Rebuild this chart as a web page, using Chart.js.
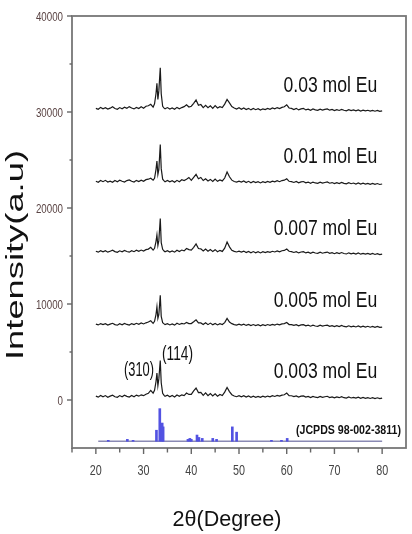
<!DOCTYPE html>
<html>
<head>
<meta charset="utf-8">
<script src="https://cdn.jsdelivr.net/npm/chart.js@4"></script>
<style>
html,body{margin:0;padding:0;background:#fff;}
#wrap{width:412px;height:534px;position:relative;}
</style>
</head>
<body>
<div id="wrap"><canvas id="c" width="412" height="534"></canvas></div>
<script>
// ---------- DATA ----------
const theta = [20,20.5,21,21.5,22,22.5,23,23.5,24,24.5,25,25.5,26,26.5,27,27.5,28,28.5,29,29.5,30,30.5,31,31.5,32,
  32.3,32.6,32.8,33.0,33.2,33.5,33.7,34.0,34.3,
  34.5,35,35.5,36,36.5,37,37.5,38,38.5,39,39.5,40,40.5,41,41.5,42,42.5,43,43.5,44,44.5,45,45.5,46,46.5,47,47.5,48,48.5,49,49.5,50,
  50.5,51,51.5,52,52.5,53,53.5,54,54.5,55,55.5,56,56.5,57,57.5,58,58.5,59,59.5,60,60.5,61,61.5,62,62.5,63,63.5,64,64.5,65,
  65.5,66,66.5,67,67.5,68,68.5,69,69.5,70,70.5,71,71.5,72,72.5,73,73.5,74,74.5,75,75.5,76,76.5,77,77.5,78,78.5,79,79.5,80];

const eu003 = [400,300,480,340,460,290,400,500,340,280,460,330,490,380,300,470,340,510,400,540,450,600,700,1000,720,
  1000,1900,2800,1500,2200,4100,1800,700,480,
  380,500,340,470,320,520,390,540,460,720,580,580,950,1250,780,800,480,740,450,680,420,640,400,570,460,820,1300,880,550,420,340,440,
  330,450,300,420,290,400,280,380,270,390,300,410,330,450,370,480,400,510,550,720,460,440,350,430,300,400,430,300,380,260,
  380,290,250,370,270,340,390,260,330,220,320,240,340,240,200,310,210,280,190,290,170,260,180,250,160,240,150,230,140,200];

const eu005 = [7900,7820,7960,7850,7950,7810,7900,7990,7850,7790,7950,7840,7980,7870,7810,7960,7850,7990,7880,8020,7920,8040,8120,8250,7990,
  8200,8900,9700,8500,8900,10900,8700,8050,7930,
  7850,7950,7820,7930,7800,7990,7870,7980,7920,8080,7960,7960,8150,8350,8030,8030,7870,8040,7850,8010,7830,7980,7820,7950,7860,8060,8500,8120,7950,7850,7810,7900,
  7800,7900,7770,7880,7750,7860,7750,7840,7720,7850,7760,7860,7780,7880,7810,7910,7830,7930,7960,8080,7860,7850,7770,7850,7720,7820,7850,7720,7800,7690,
  7800,7710,7670,7790,7690,7760,7800,7680,7750,7650,7750,7650,7760,7660,7620,7730,7630,7700,7610,7710,7590,7690,7600,7680,7580,7670,7570,7660,7560,7600];

const eu007 = [15500,15400,15560,15440,15560,15400,15500,15600,15460,15380,15540,15440,15580,15470,15400,15560,15450,15600,15480,15620,15520,15660,15720,15900,15620,
  15800,16500,17200,16100,16600,18900,16400,15700,15520,
  15440,15560,15410,15530,15400,15600,15470,15620,15540,15780,15660,15620,15900,16250,15780,15740,15520,15720,15500,15680,15460,15660,15450,15590,15480,15820,16450,15950,15600,15480,15420,15500,
  15400,15510,15360,15480,15340,15460,15340,15440,15320,15450,15350,15460,15380,15490,15420,15530,15440,15550,15580,15720,15490,15460,15370,15450,15320,15420,15450,15320,15400,15280,
  15400,15310,15270,15390,15290,15360,15410,15280,15350,15240,15340,15250,15360,15260,15210,15330,15230,15300,15200,15310,15190,15280,15200,15270,15170,15260,15160,15250,15150,15200];

const eu01 = [22780,22680,22860,22740,22880,22700,22800,22680,22860,22740,22900,22780,22700,22860,22920,22780,22700,22880,22760,22900,22780,22950,23000,23100,22900,
  23100,24000,24900,23500,24000,26600,24100,23000,22820,
  22740,22860,22720,22840,22690,22880,22740,22940,22860,23000,23180,22880,23200,23500,23050,23180,22860,23040,22820,22980,22760,23020,22780,22920,22820,23120,23750,23250,22900,22760,22700,22800,
  22700,22820,22660,22780,22630,22760,22640,22740,22610,22740,22650,22760,22680,22800,22720,22840,22740,22860,22900,23050,22780,22740,22660,22760,22620,22720,22760,22620,22700,22580,
  22700,22610,22570,22690,22590,22660,22710,22580,22650,22540,22640,22550,22660,22560,22510,22630,22530,22600,22500,22610,22490,22580,22500,22570,22470,22560,22460,22550,22450,22500];

const eu03 = [30380,30280,30480,30340,30440,30300,30400,30540,30360,30280,30460,30340,30500,30380,30560,30420,30320,30480,30360,30540,30400,30600,30650,30800,30500,
  30850,31900,33000,31300,32200,34600,31900,30600,30400,
  30340,30460,30300,30420,30280,30480,30340,30460,30560,30750,30520,30600,30900,31250,30700,30780,30460,30700,30440,30640,30380,30660,30420,30560,30460,30820,31300,30950,30560,30420,30300,30440,
  30280,30420,30260,30380,30220,30360,30240,30340,30200,30330,30250,30370,30280,30420,30330,30460,30360,30480,30540,30750,30420,30380,30260,30380,30220,30330,30380,30220,30300,30180,
  30320,30220,30170,30300,30200,30270,30320,30190,30260,30150,30250,30160,30270,30180,30120,30240,30150,30210,30120,30220,30100,30190,30110,30180,30090,30170,30080,30160,30070,30120];

const seriesNames = ["0.003 mol Eu","0.005 mol Eu","0.007 mol Eu","0.01 mol Eu","0.03 mol Eu"];

// JCPDS reference sticks (2θ and top intensity, drawn from base level refBase)
const refTheta = [22.6,26.6,27.8,32.7,33.4,33.9,34.1,39.3,39.7,40.0,41.2,41.6,42.3,44.5,45.3,48.6,49.5,56.8,58.9,60.1];
const refTop   = [-4200,-4100,-4200,-3150,-900,-2400,-2800,-4100,-4000,-4100,-3650,-3900,-4000,-4000,-4100,-2800,-3350,-4200,-4200,-4000];
const refBase = -4300;
const refLineTheta = [20.5,80];
const refLineY = [-4300,-4300];
const refName = "(JCPDS 98-002-3811)";

const xTicks = [20,30,40,50,60,70,80];
const yTicks = [0,10000,20000,30000,40000];

// ---------- CHART ----------
const traces = [eu003, eu005, eu007, eu01, eu03];
const datasets = traces.map((arr, k) => ({
  type: 'line',
  label: seriesNames[k],
  data: theta.map((t, i) => ({x: t, y: arr[i]})),
  borderColor: '#1a1a1a',
  borderWidth: 1.2,
  pointRadius: 0,
  tension: 0,
  order: 1
}));
datasets.push({
  type: 'line',
  label: 'refline',
  data: refLineTheta.map((t, i) => ({x: t, y: refLineY[i]})),
  borderColor: '#8a8ab4',
  borderWidth: 1.4,
  pointRadius: 0,
  order: 3
});
datasets.push({
  type: 'bar',
  label: refName,
  data: refTheta.map((t, i) => ({x: t, y: refTop[i]})),
  base: refBase,
  backgroundColor: '#5252e2',
  borderWidth: 0,
  barThickness: 2,
  grouped: false,
  order: 2
});

function txt(ctx, s, x, y, o) {
  ctx.save();
  ctx.font = (o.weight || 'normal') + ' ' + o.size + 'px ' + (o.family || '"Liberation Sans", Arial, sans-serif');
  const w = ctx.measureText(s).width;
  const sx = o.w ? o.w / w : (o.sx || 1);
  ctx.translate(x, y);
  if (o.rot) ctx.rotate(o.rot);
  ctx.scale(sx, 1);
  ctx.textAlign = o.align || 'left';
  ctx.textBaseline = 'alphabetic';
  ctx.fillStyle = o.color || '#000';
  ctx.fillText(s, 0, 0);
  ctx.restore();
}

const decor = {
  id: 'decor',
  afterDraw(chart) {
    const ctx = chart.ctx, a = chart.chartArea;
    const xs = chart.scales.x, ys = chart.scales.y;
    // frame
    ctx.save();
    ctx.strokeStyle = '#777';
    ctx.lineWidth = 1.8;
    ctx.strokeRect(a.left, a.top, a.right - a.left, a.bottom - a.top);
    // y ticks
    ctx.strokeStyle = '#666';
    ctx.lineWidth = 1.4;
    ys.ticks.forEach(t => {
      if (t.value <= ys.min) return;
      const py = ys.getPixelForValue(t.value);
      const major = t.value % 10000 === 0;
      ctx.beginPath();
      ctx.moveTo(a.left - (major ? 5 : 2.5), py);
      ctx.lineTo(a.left, py);
      ctx.stroke();
    });
    // x ticks
    xs.ticks.forEach(t => {
      if (t.value >= xs.max) return;
      const px = xs.getPixelForValue(t.value);
      const major = t.value % 10 === 0;
      ctx.beginPath();
      ctx.moveTo(px, a.bottom);
      ctx.lineTo(px, a.bottom + (major ? 6 : 4.5));
      ctx.stroke();
    });
    ctx.restore();
    // tick labels
    yTicks.forEach(v => {
      txt(ctx, String(v), a.left - 9, ys.getPixelForValue(v) + 4.5, {size: 12.5, sx: 0.78, align: 'right', color: '#5a4444'});
    });
    xTicks.forEach(v => {
      txt(ctx, String(v), xs.getPixelForValue(v), a.bottom + 27, {size: 14, sx: 0.77, align: 'center', color: '#444'});
    });
    // axis titles
    txt(ctx, '2θ(Degree)', 227, 526, {size: 22, w: 109, align: 'center', color: '#111'});
    txt(ctx, 'Intensity(a.u)', 22.5, 255, {size: 23, w: 210, align: 'center', rot: -Math.PI / 2, color: '#111'});
    // series labels (right-aligned near 2θ = 79)
    const labelRight = xs.getPixelForValue(79);
    const labelY = [378.3, 306.7, 235, 163.3, 91.7];
    seriesNames.forEach((s, k) => {
      txt(ctx, s, labelRight, labelY[k], {size: 22, sx: 0.8, align: 'right', color: '#111'});
    });
    txt(ctx, refName, 401, 434, {size: 13, weight: 'bold', w: 105, align: 'right', color: '#111'});
    // Miller indices
    txt(ctx, '(310)', 139, 376, {size: 21, w: 30, align: 'center', color: '#111'});
    txt(ctx, '(114)', 177.5, 360, {size: 21, w: 31, align: 'center', color: '#111'});
  }
};

new Chart(document.getElementById('c'), {
  type: 'line',
  data: {datasets},
  options: {
    responsive: false,
    animation: false,
    layout: {padding: {top: 16, right: 6, left: 0, bottom: 0}},
    plugins: {legend: {display: false}, tooltip: {enabled: false}},
    scales: {
      x: {
        type: 'linear', min: 15, max: 85, offset: false,
        ticks: {display: false, stepSize: 5},
        grid: {display: false},
        border: {display: false},
        afterFit: s => { s.height = 86; }
      },
      y: {
        type: 'linear', min: -5000, max: 40000,
        ticks: {display: false, stepSize: 5000},
        grid: {display: false},
        border: {display: false},
        afterFit: s => { s.width = 72; }
      }
    }
  },
  plugins: [decor]
});
</script>
</body>
</html>
